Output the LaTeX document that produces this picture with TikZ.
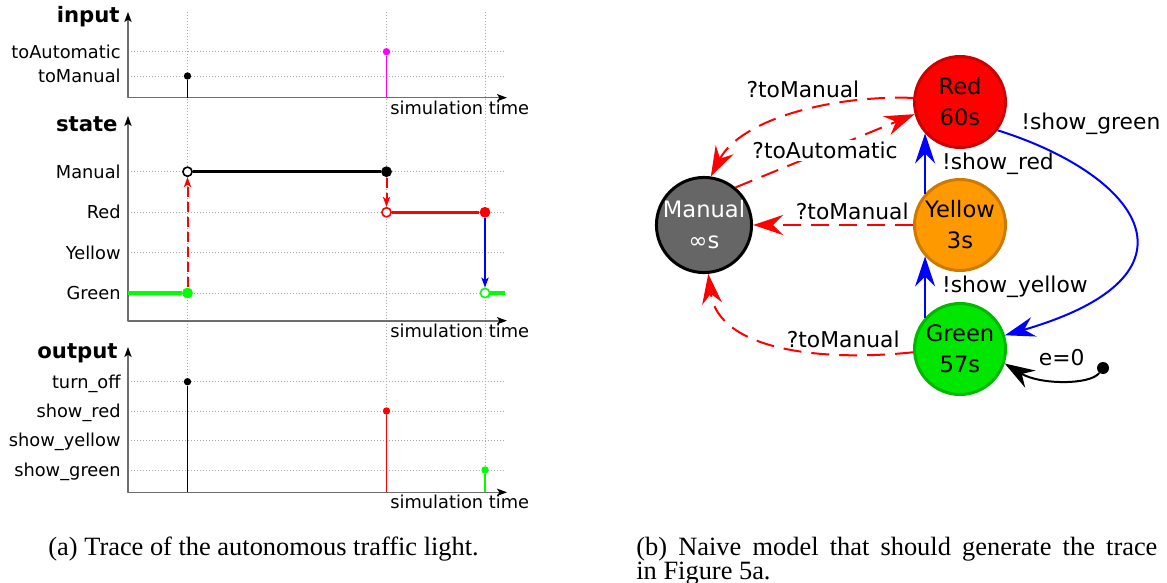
\documentclass[tikz,border=0pt]{standalone}
\usepackage{fontspec}
\setmainfont{Liberation Serif}
\newfontfamily\dejavu{DejaVu Sans}
\usetikzlibrary{arrows.meta,positioning}
\definecolor{sigred}{HTML}{FF0000}
\definecolor{siggreen}{HTML}{00FF00}
\definecolor{sigblue}{HTML}{0000FF}
\definecolor{sigmagenta}{HTML}{FF00FF}
\definecolor{axisgray}{HTML}{6E6E6E}
\definecolor{gridgray}{HTML}{A8A8A8}
\definecolor{redborder}{HTML}{CC0000}
\definecolor{yellowfill}{HTML}{FF9900}
\definecolor{yellowborder}{HTML}{CC7A00}
\definecolor{greenfill}{HTML}{00E600}
\definecolor{greenborder}{HTML}{00B800}
\definecolor{manualfill}{HTML}{666666}
\tikzset{
  axtip/.tip={Stealth[length=5pt,width=3.6pt,inset=1.2pt,black]},
  gridline/.style={gridgray, line width=0.4pt, dash pattern=on 0.5pt off 1pt},
  taxis/.style={axisgray, line width=0.8pt, axtip-axtip},
  tick/.style={font=\dejavu\fontsize{8.9}{10}\selectfont, inner sep=0pt, anchor=base east, yshift=-3.2pt},
  simtime/.style={font=\dejavu\fontsize{8.9}{10}\selectfont, inner sep=0pt, anchor=base west},
  paneltitle/.style={font=\dejavu\bfseries\fontsize{10.6}{12}\selectfont, inner sep=0pt, anchor=base east},
  tdot/.style={circle, inner sep=0pt, minimum size=3.7pt, fill=#1},
  bigdot/.style={circle, inner sep=0pt, minimum size=5.4pt, fill=#1},
  opendot/.style={circle, inner sep=0pt, minimum size=4.6pt, draw=#1, fill=white, line width=0.8pt},
  stem/.style={line width=0.9pt},
  stateline/.style={line width=1.7pt},
  jump/.style={line width=1pt, ->},
  lamp/.style={circle, minimum size=45.5pt, inner sep=0pt, line width=1.5pt, align=center,
    font=\dejavu\fontsize{11.3}{15.5}\selectfont},
  trans/.style={line width=1pt, -{Stealth[length=15pt,width=10pt,inset=5pt]}},
  dashes/.style={dash pattern=on 9pt off 5pt},
  elabel/.style={font=\dejavu\fontsize{10.9}{13}\selectfont, inner sep=1pt, text=black},
  capt/.style={font=\fontsize{13.2}{11.7}\selectfont, inner sep=0pt}
}
\begin{document}
\begin{tikzpicture}[x=0.5pt, y=-0.5pt, line join=round, >={Stealth[length=5pt,width=3.6pt,inset=1.2pt]}]
	\useasboundingbox (0,0) rectangle (1167,583);
	% grid
	\foreach \t in {187.5,386.5,485} \draw[gridline] (\t,12) -- (\t,492.3);
	\foreach \v in {51.7,76,171.7,212.3,252.7,293,381.7,411,440.3,470} \draw[gridline] (128,\v) -- (505,\v);
	% axes
	\foreach \top/\base in {12/97.7,116/320.7,347/492.3} \draw[taxis] (128,\top) -- (128,\base) -- (507,\base);
	\node[paneltitle] (tin) at (120,22.7) {input};
	\node[paneltitle] (tstate) at (118,131.7) {state};
	\node[paneltitle] (tout) at (118,358.3) {output};
	\foreach \b/\n in {97.7/simIn,320.7/simState,492.3/simOut} \node[simtime] (\n) at (390,\b+16.5) {simulation time};
	\foreach \v/\n/\txt in {51.7/lAuto/toAutomatic, 76/lMan/toManual, 171.7/sMan/Manual, 212.3/sRed/Red,
		252.7/sYel/Yellow, 293/sGre/Green, 381.7/oOff/turn\_off, 411/oRed/show\_red,
		440.3/oYel/show\_yellow, 470/oGre/show\_green}
		\node[tick] (\n) at (121,\v) {\txt};
	% input events
	\node[tdot=black] (inMan) at (187.5,76) {};
	\node[tdot=sigmagenta] (inAuto) at (386.5,51.7) {};
	\draw[stem] (187.5,97.7) -- (inMan);
	\draw[stem, sigmagenta] (386.5,97.7) -- (inAuto);
	% state trace
	\node[bigdot=siggreen] (gOn) at (187.5,293) {};
	\node[opendot=black] (mOpen) at (187.5,171.7) {};
	\node[bigdot=black] (mClose) at (386.5,171.7) {};
	\node[opendot=sigred] (rOpen) at (386.5,212.3) {};
	\node[bigdot=sigred] (rClose) at (485,212.3) {};
	\node[opendot=siggreen] (gOpen) at (485,293) {};
	\draw[stateline, siggreen] (128,293) -- (gOn);
	\draw[stateline] (mOpen) -- (mClose);
	\draw[stateline, sigred] (rOpen) -- (rClose);
	\draw[stateline, siggreen] (gOpen) -- (505,293);
	\draw[jump, sigred, dash pattern=on 5pt off 2.5pt] (gOn) -- (mOpen);
	\draw[jump, sigred, dash pattern=on 5pt off 2.5pt] (mClose) -- (rOpen);
	\draw[jump, sigblue] (rClose) -- (gOpen);
	% output events
	\node[tdot=black] (outOff) at (187.5,381.7) {};
	\node[tdot=sigred] (outRed) at (386.5,411) {};
	\node[tdot=siggreen] (outGre) at (485,470) {};
	\draw[stem] (187.5,492.3) -- (outOff);
	\draw[stem, sigred] (386.5,492.3) -- (outRed);
	\draw[stem, siggreen, line width=0.6pt] (485,492.3) -- (outGre);
	% automaton
	\node[lamp, fill=sigred, draw=redborder] (red) at (960,102) {Red\\60s};
	\node[lamp, fill=yellowfill, draw=yellowborder] (yellow) at (960,225) {Yellow\\3s};
	\node[lamp, fill=greenfill, draw=greenborder] (green) at (960,349) {Green\\57s};
	\node[lamp, fill=manualfill, draw=black, text=white] (manual) at (704,225) {Manual\\∞s};
	\draw[trans, sigred, dashes] (red.175) .. controls (830,95) and (740,120) .. (manual.82)
		node[elabel, pos=0.45, above=5pt] {?toManual};
	\draw[trans, sigred, dashes] (manual.50) -- (red.195) node[elabel, midway, fill=white] {?toAutomatic};
	\draw[trans, sigred, dashes] (yellow.west) -- (manual.east) node[elabel, pos=0.38, above=1pt] {?toManual};
	\draw[trans, sigred, dashes] (green.184) .. controls (820,362) and (718,350) .. (manual.275)
		node[elabel, pos=0.25, above=2pt] {?toManual};
	\draw[trans, sigblue] (yellow.138) -- (red.222) node[elabel, midway, right=7pt] {!show\_red};
	\draw[trans, sigblue] (green.138) -- (yellow.222) node[elabel, midway, right=7pt] {!show\_yellow};
	\draw[trans, sigblue] (red.-37) .. controls (1140,175) and (1213,275) .. (green.17)
		node[elabel, pos=0.05, anchor=south west] {!show\_green};
	% initial location
	\node[circle, fill=black, inner sep=0pt, minimum size=6pt] (init) at (1103,368) {};
	\draw[trans] (init) .. controls (1090,385) and (1040,385) .. (green.-18) node[elabel, midway, above=6pt] {e=0};
	% captions
	\node[capt, anchor=base west] (capA) at (48,555) {(a) Trace of the autonomous traffic light.};
	\node[capt, anchor=north west, text width=260.5pt, align=justify] (capB) at (636,537)
		{(b) Naive model that should generate the trace\linebreak in Figure 5a.};
\end{tikzpicture}
\end{document}
